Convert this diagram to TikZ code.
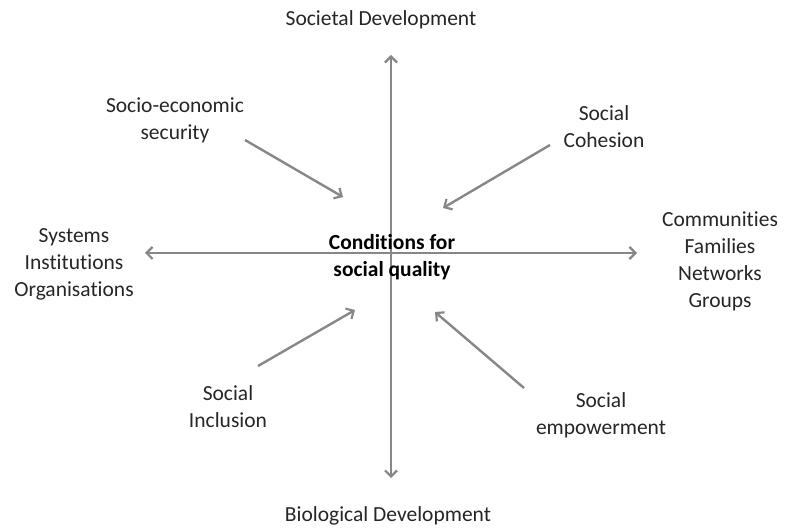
\documentclass[tikz,border=0pt]{standalone}
\usepackage{fontspec}
\setmainfont[Ligatures={NoCommon}]{Carlito}
\usetikzlibrary{arrows.meta}
\definecolor{linegray}{HTML}{878787}
\definecolor{textgray}{HTML}{262626}
\begin{document}
\begin{tikzpicture}[x=1pt,y=-1pt,
  lbl/.style={align=center,inner sep=0pt,text=textgray,font=\fontsize{21.5}{27}\selectfont},
  ctr/.style={align=center,inner sep=0pt,text=black,font=\bfseries\fontsize{21.5}{27}\selectfont},
  conn/.style={draw=linegray,line width=2.4pt,-{Straight Barb[length=6pt,width=12pt,line width=2.2pt]}},
  both/.style={draw=linegray,line width=2.4pt,{Straight Barb[length=6pt,width=12pt,line width=2.2pt]}-{Straight Barb[length=6pt,width=12pt,line width=2.2pt]}}]
\useasboundingbox (0,0) rectangle (796,529);
% axis end points
\coordinate (top) at (391,55);
\coordinate (bot) at (391,478);
\coordinate (left) at (145,253);
\coordinate (right) at (637,253);
\draw[both] (top) -- (bot);
\draw[both] (left) -- (right);
% labels
\node[lbl] (soc) at (381,20) {Societal Development};
\node[lbl] (bio) at (388,516) {Biological Development};
\node[lbl] (sys) at (74,264) {Systems\\Institutions\\Organisations};
\node[lbl] (com) at (720,261) {Communities\\Families\\Networks\\Groups};
\node[ctr] (cond) at (392,257) {Conditions for\\social quality};
\node[lbl] (ses) at (175,120) {Socio-economic\\security};
\node[lbl] (coh) at (604,127) {Social\\Cohesion};
\node[lbl] (inc) at (228,407) {Social\\Inclusion};
\node[lbl] (emp) at (601,415) {Social\\empowerment};
% diagonal arrows
\coordinate (s1) at (245,140); \coordinate (e1) at (343,197);
\coordinate (s2) at (550,145); \coordinate (e2) at (443,208);
\coordinate (s3) at (258,366); \coordinate (e3) at (355,310);
\coordinate (s4) at (524,388); \coordinate (e4) at (435,312);
\draw[conn] (s1) -- (e1);
\draw[conn] (s2) -- (e2);
\draw[conn] (s3) -- (e3);
\draw[conn] (s4) -- (e4);
\end{tikzpicture}
\end{document}
